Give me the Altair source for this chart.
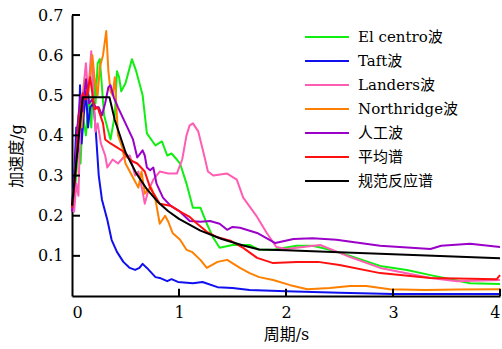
import altair as alt
import pandas as pd

FONT = "DejaVu Serif, Noto Sans CJK SC"

names = ["El centro波", "Taft波", "Landers波", "Northridge波", "人工波", "平均谱", "规范反应谱"]
colors = ["#11ee11", "#1010ee", "#ff5cb4", "#ff8000", "#9a00c8", "#ff1010", "#000000"]

t_elc = [0, 0.03, 0.06, 0.08, 0.1, 0.13, 0.16, 0.18, 0.2, 0.22, 0.24, 0.26, 0.3, 0.33, 0.36, 0.4, 0.42, 0.44, 0.46, 0.5, 0.56, 0.6, 0.66, 0.7, 0.78, 0.84, 0.89, 0.93, 0.98, 1.01, 1.07, 1.13, 1.2, 1.26, 1.32, 1.38, 1.5, 1.66, 1.75, 1.88, 2.1, 2.25, 2.41, 2.6, 2.88, 3.13, 3.35, 3.72, 4.0]
v_elc = [0.21, 0.27, 0.37, 0.33, 0.45, 0.40, 0.50, 0.42, 0.55, 0.48, 0.58, 0.59, 0.45, 0.42, 0.39, 0.45, 0.56, 0.545, 0.51, 0.53, 0.59, 0.56, 0.50, 0.405, 0.375, 0.385, 0.35, 0.355, 0.34, 0.33, 0.28, 0.22, 0.22, 0.18, 0.145, 0.12, 0.127, 0.127, 0.115, 0.115, 0.125, 0.125, 0.115, 0.1, 0.075, 0.065, 0.052, 0.032, 0.03]

t_taft = [0, 0.02, 0.04, 0.06, 0.075, 0.09, 0.11, 0.13, 0.15, 0.17, 0.2, 0.22, 0.25, 0.28, 0.33, 0.37, 0.42, 0.48, 0.54, 0.59, 0.63, 0.66, 0.7, 0.78, 0.82, 0.89, 0.93, 0.99, 1.13, 1.22, 1.36, 1.5, 1.66, 2.0, 2.5, 3.0, 3.5, 4.0]
v_taft = [0.22, 0.3, 0.42, 0.36, 0.525, 0.38, 0.45, 0.51, 0.42, 0.47, 0.48, 0.42, 0.30, 0.24, 0.19, 0.14, 0.11, 0.085, 0.07, 0.065, 0.07, 0.08, 0.07, 0.047, 0.045, 0.037, 0.042, 0.035, 0.032, 0.035, 0.022, 0.02, 0.015, 0.012, 0.008, 0.005, 0.005, 0.005]

t_land = [0, 0.02, 0.04, 0.06, 0.08, 0.1, 0.13, 0.15, 0.18, 0.2, 0.22, 0.24, 0.27, 0.31, 0.33, 0.38, 0.43, 0.48, 0.54, 0.59, 0.62, 0.66, 0.68, 0.71, 0.76, 0.82, 0.9, 0.98, 1.03, 1.07, 1.1, 1.13, 1.18, 1.24, 1.27, 1.32, 1.45, 1.54, 1.6, 1.73, 1.82, 1.91, 2.0, 2.16, 2.32, 2.48, 2.6, 2.88, 3.35, 3.6, 4.0]
v_land = [0.22, 0.21, 0.28, 0.25, 0.45, 0.5, 0.58, 0.5, 0.61, 0.5, 0.41, 0.43, 0.38, 0.35, 0.32, 0.34, 0.33, 0.345, 0.35, 0.30, 0.31, 0.26, 0.23, 0.26, 0.29, 0.31, 0.305, 0.305, 0.34, 0.40, 0.425, 0.43, 0.41, 0.345, 0.31, 0.30, 0.305, 0.29, 0.245, 0.197, 0.157, 0.122, 0.117, 0.122, 0.127, 0.11, 0.097, 0.07, 0.045, 0.037, 0.04]

t_nor = [0, 0.03, 0.06, 0.09, 0.12, 0.15, 0.19, 0.21, 0.24, 0.26, 0.29, 0.32, 0.34, 0.36, 0.38, 0.40, 0.43, 0.47, 0.5, 0.56, 0.62, 0.65, 0.68, 0.71, 0.74, 0.78, 0.82, 0.87, 0.9, 0.94, 1.01, 1.07, 1.12, 1.2, 1.26, 1.36, 1.45, 1.57, 1.66, 1.75, 1.88, 2.04, 2.2, 2.41, 2.6, 2.75, 2.97, 3.3, 3.6, 4.0]
v_nor = [0.22, 0.3, 0.45, 0.42, 0.54, 0.5, 0.60, 0.545, 0.5, 0.57, 0.6, 0.66, 0.56, 0.51, 0.5, 0.545, 0.40, 0.37, 0.33, 0.30, 0.27, 0.31, 0.255, 0.265, 0.27, 0.24, 0.18, 0.2, 0.185, 0.157, 0.14, 0.115, 0.11, 0.09, 0.07, 0.085, 0.09, 0.07, 0.057, 0.047, 0.04, 0.027, 0.017, 0.02, 0.025, 0.025, 0.017, 0.015, 0.016, 0.017]

t_art = [0, 0.03, 0.05, 0.08, 0.1, 0.13, 0.16, 0.19, 0.22, 0.25, 0.28, 0.31, 0.34, 0.36, 0.39, 0.43, 0.5, 0.57, 0.61, 0.66, 0.68, 0.7, 0.73, 0.76, 0.79, 0.85, 0.92, 1.01, 1.1, 1.2, 1.29, 1.38, 1.45, 1.5, 1.57, 1.73, 1.9, 2.07, 2.25, 2.47, 2.88, 3.35, 3.45, 3.72, 4.0]
v_art = [0.21, 0.3, 0.42, 0.5, 0.46, 0.54, 0.48, 0.49, 0.47, 0.47, 0.45, 0.48, 0.52, 0.525, 0.495, 0.47, 0.43, 0.39, 0.345, 0.363, 0.35, 0.32, 0.313, 0.32, 0.28, 0.245, 0.225, 0.21, 0.187, 0.185, 0.187, 0.18, 0.165, 0.172, 0.17, 0.157, 0.132, 0.142, 0.144, 0.14, 0.125, 0.117, 0.125, 0.13, 0.122]

t_avg = [0, 0.03, 0.06, 0.1, 0.13, 0.17, 0.21, 0.24, 0.29, 0.31, 0.36, 0.42, 0.48, 0.52, 0.57, 0.61, 0.68, 0.73, 0.82, 0.92, 1.01, 1.1, 1.17, 1.26, 1.35, 1.48, 1.6, 1.73, 1.88, 2.1, 2.3, 2.5, 2.88, 3.35, 3.97, 4.0]
v_avg = [0.22, 0.3, 0.42, 0.505, 0.49, 0.545, 0.465, 0.47, 0.43, 0.39, 0.38, 0.37, 0.36, 0.345, 0.335, 0.33, 0.31, 0.27, 0.23, 0.225, 0.21, 0.197, 0.18, 0.16, 0.147, 0.138, 0.12, 0.095, 0.082, 0.085, 0.085, 0.077, 0.057, 0.045, 0.042, 0.052]

t_code = [0, 0.1, 0.35, 0.4, 0.5, 0.6, 0.7, 0.8, 0.9, 1.0, 1.2, 1.4, 1.6, 1.75, 2.0, 2.5, 3.0, 3.5, 4.0]
v_code = [0.225, 0.495, 0.495, 0.4385, 0.358, 0.306, 0.266, 0.235, 0.211, 0.192, 0.163, 0.142, 0.126, 0.116, 0.114, 0.109, 0.104, 0.099, 0.094]

y_ticks = [0.1, 0.2, 0.3, 0.4, 0.5, 0.6, 0.7]
x_ticks = [0, 1, 2, 3, 4]

series = [(t_elc, v_elc), (t_taft, v_taft), (t_land, v_land), (t_nor, v_nor),
          (t_art, v_art), (t_avg, v_avg), (t_code, v_code)]
rows = []
for name, (ts, vs) in zip(names, series):
    for i, (t, v) in enumerate(zip(ts, vs)):
        rows.append({"series": name, "T": t, "A": v, "order": i})
df = pd.DataFrame(rows)

xscale = alt.Scale(domain=[0, 4], nice=False, zero=False)
yscale = alt.Scale(domain=[0, 0.7], nice=False, zero=False)

lines = alt.Chart(df).mark_line(strokeWidth=2, strokeJoin="round").encode(
    x=alt.X("T:Q", scale=xscale,
            axis=alt.Axis(values=x_ticks, format="d", title="周期/s", ticks=False,
                          labelPadding=8, titlePadding=6)),
    y=alt.Y("A:Q", scale=yscale,
            axis=alt.Axis(values=y_ticks, format=".1f", title="加速度/g", ticks=False,
                          labelPadding=9, titlePadding=13)),
    color=alt.Color("series:N",
                    scale=alt.Scale(domain=names, range=colors),
                    legend=alt.Legend(title=None, orient="none", legendX=239, legendY=6,
                                      symbolType="M-1.5,0H1.5", symbolSize=858,
                                      symbolStrokeWidth=2, labelOffset=15,
                                      labelFontSize=15, labelFont=FONT,
                                      rowPadding=0, labelColor="black")),
    order="order:Q",
)

ytick_df = pd.DataFrame({"y": y_ticks[:], "x0": [0] * len(y_ticks), "x1": [0.075] * len(y_ticks)})
yt = alt.Chart(ytick_df).mark_rule(color="black", strokeWidth=2).encode(
    x=alt.X("x0:Q", scale=xscale), x2="x1:Q", y=alt.Y("y:Q", scale=yscale))
xtick_df = pd.DataFrame({"x": x_ticks[1:], "y0": [0] * 4, "y1": [0.018] * 4})
xt = alt.Chart(xtick_df).mark_rule(color="black", strokeWidth=2).encode(
    x=alt.X("x:Q", scale=xscale), y=alt.Y("y0:Q", scale=yscale), y2="y1:Q")

chart = alt.layer(lines, yt, xt).properties(
    width=428, height=281,
    autosize=alt.AutoSizeParams(type="none"),
    padding={"left": 72, "top": 15, "right": 2, "bottom": 53},
).configure_view(stroke=None).configure_axis(
    grid=False, domainColor="black", domainWidth=2,
    labelFont=FONT, labelFontSize=16, labelColor="black",
    titleFont=FONT, titleFontSize=16, titleColor="black", titleFontWeight="normal",
).configure_axisY(labelAlign="right")

chart.save("out.html", embed_options={"renderer": "svg", "actions": False})
